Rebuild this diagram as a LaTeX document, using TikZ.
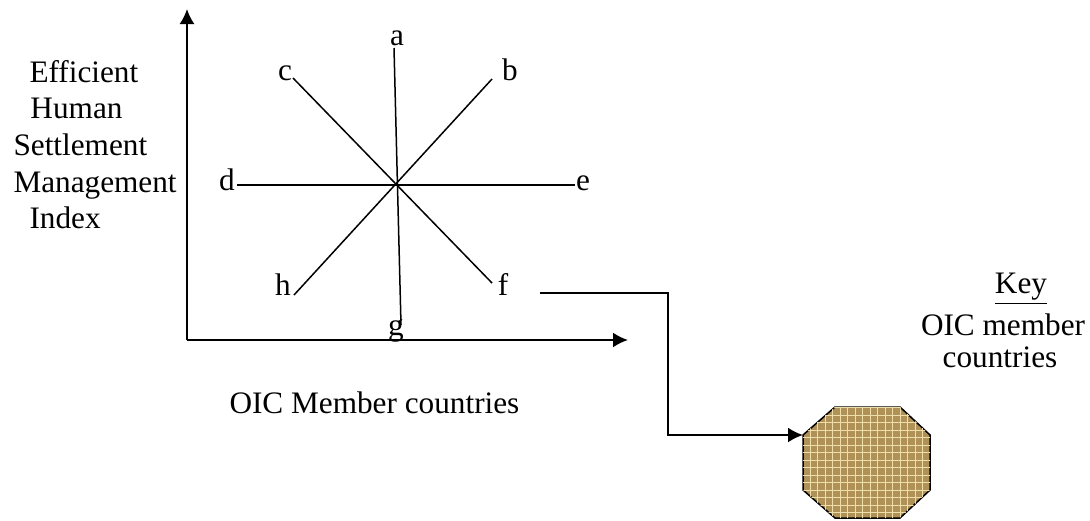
\documentclass[tikz,border=0pt]{standalone}
\usepackage{fontspec}
\setmainfont{Liberation Serif}
\usetikzlibrary{arrows.meta,patterns}
\tikzset{>={Latex[length=6pt,width=6pt]}}
\definecolor{sack}{RGB}{176,146,88}
\definecolor{sacklight}{RGB}{238,222,170}

\begin{document}
\begin{tikzpicture}[x=0.4pt, y=-0.4pt, font=\fontsize{12.5}{15}\selectfont,
    lbl/.style={inner sep=0pt, anchor=base},
    txt/.style={inner sep=0pt, anchor=base west},
    axis/.style={line width=0.8pt, ->},
    ray/.style={line width=0.6pt}]
    \useasboundingbox (0,0) rectangle (1090,520);

    % axes
    \coordinate (origin) at (187,340);
    \coordinate (ytip) at (187,9);
    \coordinate (xtip) at (628,340);
    \draw[axis] (origin) -- (ytip);
    \draw[axis] (origin) -- (xtip);

    % star of eight ends
    \foreach \n/\x/\y in {ea/394/48, eb/492/79, ec/293/78, ed/237/185, ee/575/185, ef/492/283, eg/401/325, eh/294/295}
    {
        \coordinate (\n) at (\x,\y);
    }
    \draw[ray] (ea) -- (eg);
    \draw[ray] (ec) -- (ef);
    \draw[ray] (eh) -- (eb);
    \draw[ray] (ed) -- (ee);

    \foreach \n/\x/\y in {a/397/45, b/510/80, c/285/80, d/227/190, e/583/190, f/503/295, g/396/335, h/283/295}
    {
        \node[lbl] (\n) at (\x,\y) {\n};
    }

    % axis titles
    \node[txt] (eff) at (29,82) {Efficient};
    \node[txt] (hum) at (30,118) {Human};
    \node[txt] (set) at (13,155) {Settlement};
    \node[txt] (man) at (13,192) {Management};
    \node[txt] (ind) at (29,228) {Index};
    \node[txt] (oic) at (229,413) {OIC Member countries};

    % key
    \node[lbl] (key) at (1021,293) {\underline{Key}};
    \node[lbl] (keya) at (1003,335) {OIC member};
    \node[lbl] (keyb) at (1000,367) {countries};

    \filldraw[line width=0.6pt, fill=sack, postaction={pattern=grid, pattern color=sacklight}]
        (835,407) -- (900,407) -- (930,435) -- (930,490) -- (900,518) -- (835,518) -- (803,490) -- (803,435) -- cycle;
    \coordinate (oct) at (803,435);
    \coordinate (fstart) at (540,293);
    \draw[line width=0.8pt, ->] (fstart) -| (668,435) -- (oct);

\end{tikzpicture}
\end{document}
